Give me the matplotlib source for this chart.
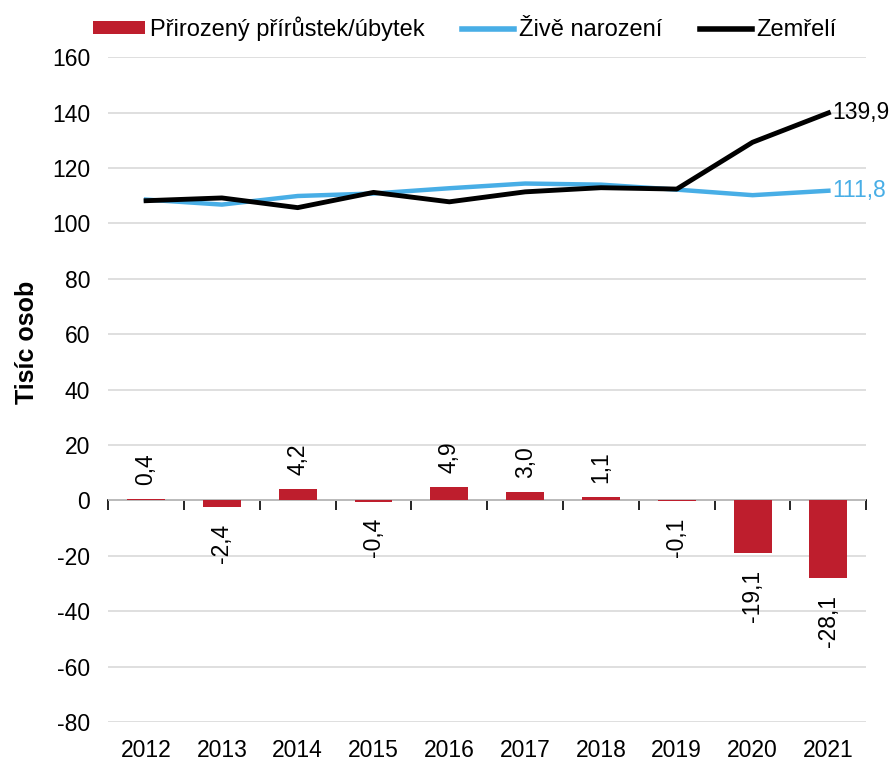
import numpy as np
import matplotlib.pyplot as plt
from matplotlib.patches import Patch
from matplotlib.lines import Line2D

plt.rcParams['font.family'] = ['Liberation Sans', 'DejaVu Sans']
plt.rcParams['axes.unicode_minus'] = False

years = ["2012", "2013", "2014", "2015", "2016", "2017", "2018", "2019", "2020", "2021"]
narozeni = [108.6, 106.8, 109.9, 110.8, 112.7, 114.4, 114.0, 112.2, 110.2, 111.8]
zemreli = [108.2, 109.2, 105.7, 111.2, 107.8, 111.4, 112.9, 112.4, 129.3, 139.9]
prirustek = [0.4, -2.4, 4.2, -0.4, 4.9, 3.0, 1.1, -0.1, -19.1, -28.1]

RED = "#BE1E2D"
BLUE = "#48AEE6"
FS = 16.5


def fmt(v):
    return f"{v:.1f}".replace(".", ",")


fig = plt.figure(figsize=(8.94, 7.63), dpi=100)
ax = fig.add_axes([0.121, 0.0537, 0.848, 0.8713])

x = np.arange(len(years))
ax.bar(x, prirustek, width=0.5, color=RED, zorder=2)
ax.plot(x, narozeni, color=BLUE, lw=3.2, zorder=3, solid_joinstyle="round")
ax.plot(x, zemreli, color="black", lw=3.5, zorder=4, solid_joinstyle="round")

for xi, v in zip(x, prirustek):
    if v >= 0:
        ax.annotate(fmt(v), (xi, v), xytext=(0, 10), textcoords="offset points",
                    rotation=90, ha="center", va="bottom", fontsize=FS)
    else:
        ax.annotate(fmt(v), (xi, v), xytext=(0, -12), textcoords="offset points",
                    rotation=90, ha="center", va="top", fontsize=FS)

ax.annotate(fmt(zemreli[-1]), (x[-1], zemreli[-1]), xytext=(3, 0),
            textcoords="offset points", ha="left", va="center", fontsize=FS,
            color="black", annotation_clip=False)
ax.annotate(fmt(narozeni[-1]), (x[-1], narozeni[-1]), xytext=(3, 0),
            textcoords="offset points", ha="left", va="center", fontsize=FS,
            color=BLUE, annotation_clip=False)

ax.set_xlim(-0.5, len(years) - 0.5)
ax.set_ylim(-80, 160)
ax.set_yticks(np.arange(-80, 161, 20))
ax.yaxis.grid(True, color="#D9D9D9", lw=1.2)
ax.set_axisbelow(True)
ax.tick_params(axis="y", length=0, labelsize=FS, pad=13)
ax.set_xticks(x)
ax.set_xticklabels(years)
ax.tick_params(axis="x", length=0, labelsize=FS, pad=12)
for s in ax.spines.values():
    s.set_visible(False)
ax.set_ylabel("Tisíc osob", fontsize=18, fontweight="bold", labelpad=9, y=0.571)

# zero line with category boundary ticks
sec = ax.secondary_xaxis(80 / 240)
sec.set_xticks(np.arange(-0.5, len(years), 1.0))
sec.set_xticklabels([])
sec.tick_params(axis="x", length=7, width=1.2, direction="out", color="black")
sec.spines["bottom"].set_color("black")
sec.spines["bottom"].set_linewidth(1.2)

handles = [
    Patch(facecolor=RED, label="Přirozený přírůstek/úbytek"),
    Line2D([], [], color=BLUE, lw=4, label="Živě narození"),
    Line2D([], [], color="black", lw=4, label="Zemřelí"),
]
fig.legend(handles=handles, loc="upper center", bbox_to_anchor=(0.52, 1.0),
           ncol=3, frameon=False, fontsize=17, handlelength=2.2,
           handletextpad=0.2, columnspacing=1.6, handleheight=0.45,
           borderaxespad=0.3)

fig.savefig("out.png", dpi=100)
